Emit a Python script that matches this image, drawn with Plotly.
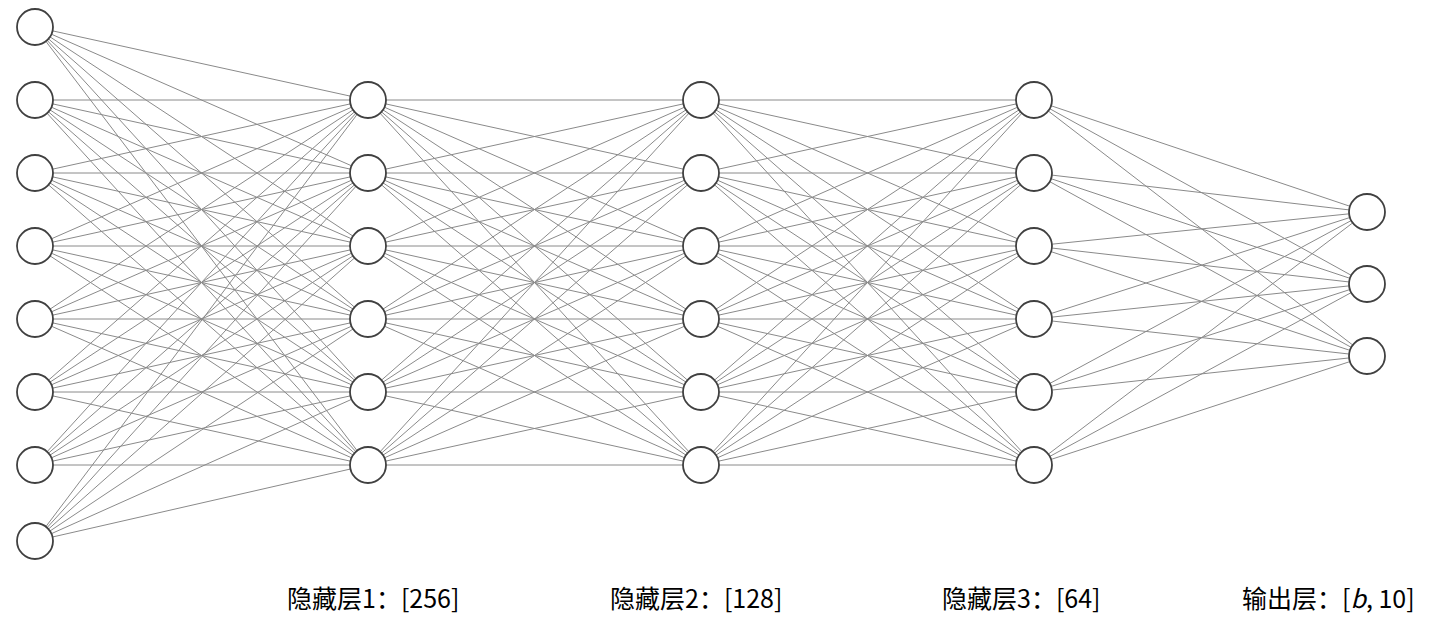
import plotly.graph_objects as go

# layer centres (x) and node centres (y)
layer_x = [35, 368, 701, 1034, 1367]
input_y = [27, 100, 173, 246, 319, 392, 465, 541]
hidden_y = [100, 173, 246, 319, 392, 465]
output_y = [212, 284, 356]
layer_nodes = [input_y, hidden_y, hidden_y, hidden_y, output_y]

labels = ["输入：[<i>b</i>, 784]", "隐藏层1：[256]", "隐藏层2：[128]",
          "隐藏层3：[64]", "输出层：[<i>b</i>, 10]"]
label_x = [5, 285, 608, 940, 1240]

fig = go.Figure()

# edges between consecutive layers
ex, ey = [], []
for i in range(len(layer_x) - 1):
    for y0 in layer_nodes[i]:
        for y1 in layer_nodes[i + 1]:
            ex += [layer_x[i], layer_x[i + 1], None]
            ey += [y0, y1, None]
fig.add_trace(go.Scatter(x=ex, y=ey, mode="lines",
                         line=dict(color="#8a8a8a", width=1),
                         hoverinfo="skip", showlegend=False))

# nodes
nx, ny = [], []
for x, ys in zip(layer_x, layer_nodes):
    nx += [x] * len(ys)
    ny += ys
fig.add_trace(go.Scatter(x=nx, y=ny, mode="markers",
                         marker=dict(size=36, color="white",
                                     line=dict(color="#404040", width=1.8)),
                         showlegend=False))

for x, t in zip(label_x, labels):
    fig.add_annotation(x=x, y=597, text=t, showarrow=False, xanchor="left",
                       font=dict(size=25, color="black",
                                 family="Noto Sans CJK SC, DejaVu Serif"))

# the page body has an 8px margin, so shift the ranges to compensate
fig.update_xaxes(range=[8, 1460], visible=False)
fig.update_yaxes(range=[626, 8], visible=False)
fig.update_layout(width=1452, height=618, margin=dict(l=0, r=0, t=0, b=0),
                  plot_bgcolor="white", paper_bgcolor="white")

fig.write_html("out.html")
